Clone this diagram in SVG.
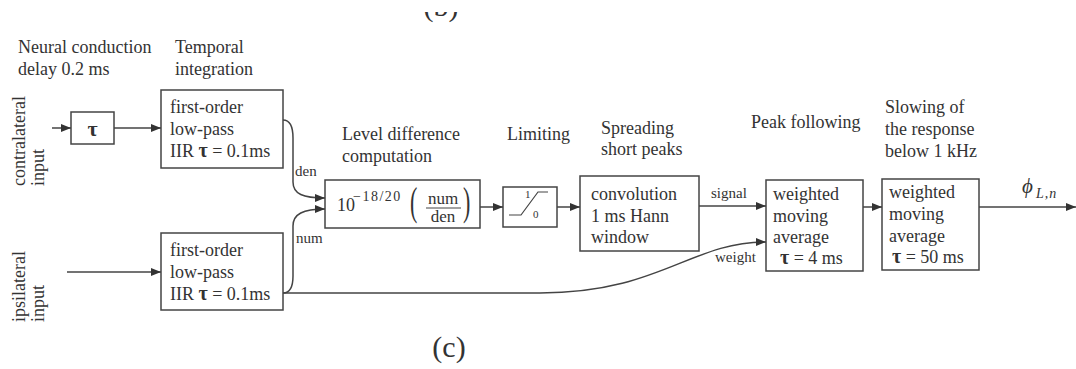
<svg xmlns="http://www.w3.org/2000/svg" width="1076" height="369" viewBox="0 0 1076 369" font-family="'Liberation Serif', 'Times New Roman', serif">
<defs>
<marker id="ah" viewBox="0 0 10 8" refX="10" refY="4" markerWidth="10" markerHeight="8" markerUnits="userSpaceOnUse" orient="auto">
<path d="M0,0 L10,4 L0,8 z" fill="#333"/>
</marker>
<clipPath id="topcut"><rect x="0" y="12" width="1076" height="20"/></clipPath>
</defs>
<style>
text{font-family:"Liberation Serif","Times New Roman",serif;fill:#333;font-size:18px}
.sm{font-size:15px}
.box{fill:#fff;stroke:#444;stroke-width:1.5}
.ln{fill:none;stroke:#444;stroke-width:1.5}
.arr{fill:none;stroke:#444;stroke-width:1.5;marker-end:url(#ah)}
.tau{font-weight:bold}
.it{font-style:italic}
</style>
<rect width="1076" height="369" fill="#fff"/>

<text x="441" y="16" text-anchor="middle" clip-path="url(#topcut)" style="font-size:30px">(b)</text>

<g id="captions">
<text x="18" y="53">Neural conduction</text>
<text x="18" y="75">delay 0.2 ms</text>
<text x="175" y="53">Temporal</text>
<text x="175" y="75">integration</text>
<text x="342" y="140">Level difference</text>
<text x="342" y="162">computation</text>
<text x="507" y="140">Limiting</text>
<text x="601" y="134">Spreading</text>
<text x="601" y="155">short peaks</text>
<text x="751" y="128">Peak following</text>
<text x="885" y="113">Slowing of</text>
<text x="885" y="135">the response</text>
<text x="885" y="157">below 1 kHz</text>
</g>

<g id="contralateral-input">
<text transform="translate(25,186) rotate(-90)">contralateral</text>
<text transform="translate(44,186) rotate(-90)">input</text>
</g>
<g id="ipsilateral-input">
<text transform="translate(25,322) rotate(-90)">ipsilateral</text>
<text transform="translate(44,322) rotate(-90)">input</text>
</g>

<g id="delay">
<rect class="box" x="71" y="112" width="43" height="32"/>
<text class="tau" x="92.5" y="136" text-anchor="middle" style="font-size:22px">τ</text>
</g>

<g id="lp-contra">
<rect class="box" x="161" y="90" width="122" height="78"/>
<text x="170" y="113">first-order</text>
<text x="170" y="135">low-pass</text>
<text x="170" y="157">IIR <tspan class="tau" style="font-size:20px">τ</tspan> = 0.1ms</text>
</g>

<g id="lp-ipsi">
<rect class="box" x="161" y="233" width="122" height="77"/>
<text x="170" y="256">first-order</text>
<text x="170" y="278">low-pass</text>
<text x="170" y="300">IIR <tspan class="tau" style="font-size:20px">τ</tspan> = 0.1ms</text>
</g>

<g id="level-difference">
<rect class="box" x="325" y="180" width="155" height="48"/>
<text x="337" y="211">10</text>
<text x="353" y="201" style="font-size:14px;letter-spacing:1.5px">−18/20</text>
<text x="0" y="0" transform="translate(410,215) scale(0.55,1)" style="font-size:40px">(</text>
<text x="443" y="204" text-anchor="middle" style="font-size:17px">num</text>
<line class="ln" x1="426" y1="208" x2="461" y2="208" style="stroke-width:1"/>
<text x="443" y="222" text-anchor="middle" style="font-size:17px">den</text>
<text x="0" y="0" transform="translate(463,215) scale(0.55,1)" style="font-size:40px">)</text>
</g>

<g id="limiting">
<rect class="box" x="503" y="187" width="54" height="40"/>
<polyline class="ln" points="509,215 521,215 538,192 548,192" style="stroke-width:1.2"/>
<text x="525" y="198" style="font-size:11px">1</text>
<text x="533" y="218" style="font-size:11px">0</text>
</g>

<g id="spreading">
<rect class="box" x="580" y="176" width="119" height="75"/>
<text x="591" y="200">convolution</text>
<text x="591" y="222">1 ms Hann</text>
<text x="591" y="243">window</text>
</g>

<g id="peak-following">
<rect class="box" x="766" y="180" width="97" height="91"/>
<text x="773" y="200">weighted</text>
<text x="773" y="222">moving</text>
<text x="773" y="243">average</text>
<text x="780" y="264"><tspan class="tau" style="font-size:20px">τ</tspan> = 4 ms</text>
</g>

<g id="slowing">
<rect class="box" x="882" y="179" width="97" height="91"/>
<text x="889" y="198">weighted</text>
<text x="889" y="220">moving</text>
<text x="889" y="242">average</text>
<text x="892" y="263"><tspan class="tau" style="font-size:20px">τ</tspan> = 50 ms</text>
</g>

<g id="connectors">
<line class="arr" x1="52" y1="128" x2="71" y2="128"/>
<line class="arr" x1="114" y1="128" x2="161" y2="128"/>
<line class="arr" x1="67" y1="272" x2="161" y2="272"/>
<path class="arr" d="M283,120 C291,120 293,128 293,138 L293,182 C293,194 303,198 325,198"/>
<path class="arr" d="M283,293 C291,293 293,286 293,276 L293,226 C293,214 303,209 325,209"/>
<path class="arr" d="M283,293 L540,293 C660,293 690,242 766,242"/>
<line class="arr" x1="480" y1="207" x2="503" y2="207"/>
<line class="arr" x1="557" y1="207" x2="580" y2="207"/>
<line class="arr" x1="699" y1="206" x2="766" y2="206"/>
<line class="arr" x1="863" y1="207" x2="882" y2="207"/>
<line class="arr" x1="979" y1="207" x2="1076" y2="207"/>
<text class="sm" x="295" y="176">den</text>
<text class="sm" x="296" y="243">num</text>
<text class="sm" x="711" y="198">signal</text>
<text class="sm" x="715" y="262">weight</text>
<text class="it" x="1022" y="193" style="font-size:21px">ϕ</text>
<text class="it" x="1036" y="198" style="font-size:14px;letter-spacing:1px">L,n</text>
</g>

<text x="449" y="357" text-anchor="middle" style="font-size:30px">(c)</text>
</svg>
